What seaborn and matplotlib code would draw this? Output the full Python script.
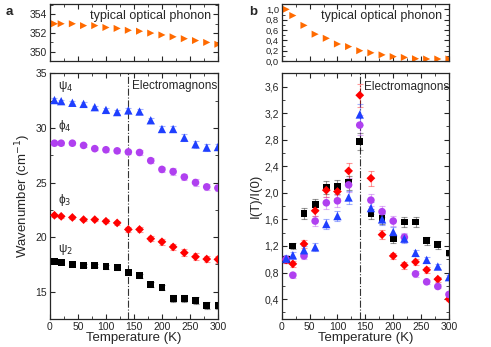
import matplotlib
matplotlib.use("Agg")
import matplotlib.pyplot as plt
import numpy as np
import pandas as pd
import seaborn as sns
from matplotlib.ticker import MultipleLocator, FuncFormatter


TEMPS = [8, 20, 40, 60, 80, 100, 120, 140, 160, 180, 200, 220, 240, 260, 280, 300]

# panel a: mode frequencies (cm-1)
PHONON_FREQ = [353.0, 353.0, 353.0, 352.8, 352.8, 352.6, 352.5, 352.3,
               352.2, 352.0, 351.8, 351.6, 351.4, 351.2, 351.0, 350.8]
PSI4_FREQ = [32.55, 32.45, 32.3, 32.2, 31.9, 31.65, 31.45, 31.6,
             31.5, 30.7, 29.9, 29.9, 29.1, 28.5, 28.2, 28.25]
PHI4_FREQ = [28.6, 28.6, 28.6, 28.4, 28.1, 28.0, 27.9, 27.8,
             27.75, 27.0, 26.2, 26.0, 25.5, 25.0, 24.6, 24.5]
PHI3_FREQ = [22.0, 21.9, 21.8, 21.6, 21.6, 21.45, 21.3, 20.7,
             20.7, 19.85, 19.57, 19.1, 18.57, 18.2, 17.99, 17.96]
PSI2_FREQ = [17.77, 17.71, 17.5, 17.4, 17.4, 17.3, 17.2, 16.77,
             16.46, 15.67, 15.37, 14.36, 14.36, 14.2, 13.75, 13.75]
FREQ_ERR = [0.15, 0.15, 0.15, 0.15, 0.15, 0.18, 0.18, 0.2,
            0.2, 0.25, 0.25, 0.3, 0.3, 0.3, 0.3, 0.3]

# panel b: normalised intensities
PHONON_INT = [1.0, 0.88, 0.69, 0.52, 0.44, 0.33, 0.28, 0.20,
              0.16, 0.12, 0.086, 0.07, 0.045, 0.04, 0.04, 0.04]
PSI2_INT = [1.0, 1.2, 1.69, 1.83, 2.08, 2.09, 2.15, 2.77,
            1.68, 1.615, 1.31, 1.56, 1.56, 1.28, 1.22, 1.095]
PHI3_INT = [0.99, 0.93, 1.23, 1.73, 2.04, 2.02, 2.33, 3.47,
            2.22, 1.37, 1.05, 0.91, 0.96, 0.84, 0.70, 0.40]
PHI4_INT = [1.0, 0.76, 1.05, 1.575, 1.85, 1.88, 2.12, 3.02,
            1.89, 1.716, 1.575, 1.33, 0.78, 0.66, 0.59, 0.47]
PSI4_INT = [1.01, 1.06, 1.135, 1.18, 1.53, 1.65, 1.93, 3.18,
            1.77, 1.6, 1.41, 1.31, 1.095, 0.99, 0.89, 0.73]
PSI2_INT_ERR = [0.05, 0.05, 0.08, 0.08, 0.1, 0.1, 0.1, 0.13,
                0.08, 0.08, 0.07, 0.08, 0.08, 0.06, 0.06, 0.05]
PHI3_INT_ERR = [0.05, 0.05, 0.06, 0.08, 0.1, 0.1, 0.12, 0.17,
                0.11, 0.07, 0.05, 0.05, 0.05, 0.04, 0.04, 0.03]
PHI4_INT_ERR = [0.05, 0.04, 0.05, 0.08, 0.09, 0.09, 0.1, 0.15,
                0.09, 0.08, 0.08, 0.07, 0.04, 0.03, 0.03, 0.03]
PSI4_INT_ERR = [0.05, 0.05, 0.06, 0.06, 0.08, 0.08, 0.1, 0.16,
                0.09, 0.08, 0.07, 0.07, 0.05, 0.05, 0.04, 0.04]

MODES = ["psi2", "phi3", "phi4", "psi4"]
COLORS = {"psi2": "#000000", "phi3": "#FF0000", "phi4": "#B040F0", "psi4": "#1F3FFF"}
MARKERS = {"psi2": "s", "phi3": "D", "phi4": "o", "psi4": "^"}
SIZES = {"psi2": 24, "phi3": 20, "phi4": 30, "psi4": 36}
PHONON_COLOR = "#FF6A00"
T_C = 140


def comma(x, pos):
    return f"{x:.1f}".replace(".", ",")


def style_axis(ax):
    ax.tick_params(which="both", direction="in", top=True, right=True,
                   labelsize=7.5, pad=2)
    ax.tick_params(which="major", length=3.5, width=0.8)
    ax.tick_params(which="minor", length=2, width=0.6)
    for sp in ax.spines.values():
        sp.set_linewidth(0.9)
    ax.set_xlim(0, 300)
    ax.xaxis.set_major_locator(MultipleLocator(50))
    ax.xaxis.set_minor_locator(MultipleLocator(25))


def draw_modes(ax, df):
    for mode in MODES:
        sub = df[df["mode"] == mode]
        ax.errorbar(sub["T"], sub["value"], yerr=sub["err"], fmt="none",
                    ecolor=COLORS[mode], alpha=0.4, capsize=2, elinewidth=0.8,
                    capthick=0.8, zorder=2)
    for mode in MODES:
        sub = df[df["mode"] == mode]
        sns.scatterplot(data=sub, x="T", y="value", ax=ax, color=COLORS[mode],
                        marker=MARKERS[mode], s=SIZES[mode], edgecolor="none",
                        legend=False, zorder=3)
    ax.axvline(T_C, color="#333333", linestyle="-.", linewidth=0.8, zorder=1)


def draw_phonon(ax, values):
    sns.scatterplot(x=TEMPS, y=values, ax=ax, color=PHONON_COLOR, marker=">",
                    s=26, edgecolor="none", legend=False)
    ax.text(0.96, 0.9, "typical optical phonon", transform=ax.transAxes,
            ha="right", va="top", fontsize=9)
    ax.set_xlabel("")
    ax.set_ylabel("")
    ax.tick_params(labelbottom=False)


def main():
    sns.set_theme(style="ticks")
    plt.rcParams["font.family"] = ["Liberation Sans", "DejaVu Sans"]
    plt.rcParams["mathtext.fontset"] = "dejavusans"

    freq = pd.DataFrame({
        "T": TEMPS * 4,
        "value": PSI2_FREQ + PHI3_FREQ + PHI4_FREQ + PSI4_FREQ,
        "err": FREQ_ERR * 4,
        "mode": [m for m in MODES for _ in TEMPS],
    })
    inten = pd.DataFrame({
        "T": TEMPS * 4,
        "value": PSI2_INT + PHI3_INT + PHI4_INT + PSI4_INT,
        "err": PSI2_INT_ERR + PHI3_INT_ERR + PHI4_INT_ERR + PSI4_INT_ERR,
        "mode": [m for m in MODES for _ in TEMPS],
    })

    fig = plt.figure(figsize=(4.91, 3.47), dpi=100)
    ax_at = fig.add_axes([0.1018, 0.824, 0.342, 0.164])
    ax_ab = fig.add_axes([0.1018, 0.0807, 0.342, 0.708])
    ax_bt = fig.add_axes([0.5737, 0.824, 0.3407, 0.164])
    ax_bb = fig.add_axes([0.5737, 0.0807, 0.3407, 0.708])

    # panel a top
    draw_phonon(ax_at, PHONON_FREQ)
    style_axis(ax_at)
    ax_at.set_ylim(349, 355.1)
    ax_at.yaxis.set_major_locator(MultipleLocator(2))
    ax_at.yaxis.set_minor_locator(MultipleLocator(1))

    # panel a bottom
    draw_modes(ax_ab, freq)
    style_axis(ax_ab)
    ax_ab.set_ylim(12.5, 35)
    ax_ab.yaxis.set_major_locator(MultipleLocator(5))
    ax_ab.yaxis.set_minor_locator(MultipleLocator(2.5))
    ax_ab.set_xlabel("Temperature (K)", fontsize=9.5, labelpad=0)
    ax_ab.set_ylabel("Wavenumber (cm$^{-1}$)", fontsize=9.5, labelpad=2)
    ax_ab.text(147, 33.8, "Electromagnons", fontsize=8.5, va="center")
    for label, y in [("ψ$_4$", 33.8), ("ϕ$_4$", 30.15),
                     ("ϕ$_3$", 23.4), ("ψ$_2$", 18.9)]:
        ax_ab.text(15, y, label, fontsize=8.5, va="center")

    # panel b top
    draw_phonon(ax_bt, PHONON_INT)
    style_axis(ax_bt)
    ax_bt.set_ylim(0, 1.1)
    ax_bt.yaxis.set_major_locator(MultipleLocator(0.2))
    ax_bt.yaxis.set_minor_locator(MultipleLocator(0.1))
    ax_bt.yaxis.set_major_formatter(FuncFormatter(comma))
    ax_bt.tick_params(axis="y", labelsize=6.8)

    # panel b bottom
    draw_modes(ax_bb, inten)
    style_axis(ax_bb)
    ax_bb.set_ylim(0.1, 3.8)
    ax_bb.yaxis.set_major_locator(MultipleLocator(0.4))
    ax_bb.yaxis.set_minor_locator(MultipleLocator(0.2))
    ax_bb.yaxis.set_major_formatter(FuncFormatter(comma))
    ax_bb.set_xlabel("Temperature (K)", fontsize=9.5, labelpad=0)
    ax_bb.set_ylabel("I(T)/I(0)", fontsize=9.5, labelpad=2)
    ax_bb.text(148, 3.6, "Electromagnons", fontsize=8.5, va="center")

    fig.text(0.012, 0.965, "a", fontsize=9.5, fontweight="bold", va="center")
    fig.text(0.508, 0.965, "b", fontsize=9.5, fontweight="bold", va="center")

    fig.savefig("out.png", dpi=100)
    plt.close(fig)


if __name__ == "__main__":
    main()
